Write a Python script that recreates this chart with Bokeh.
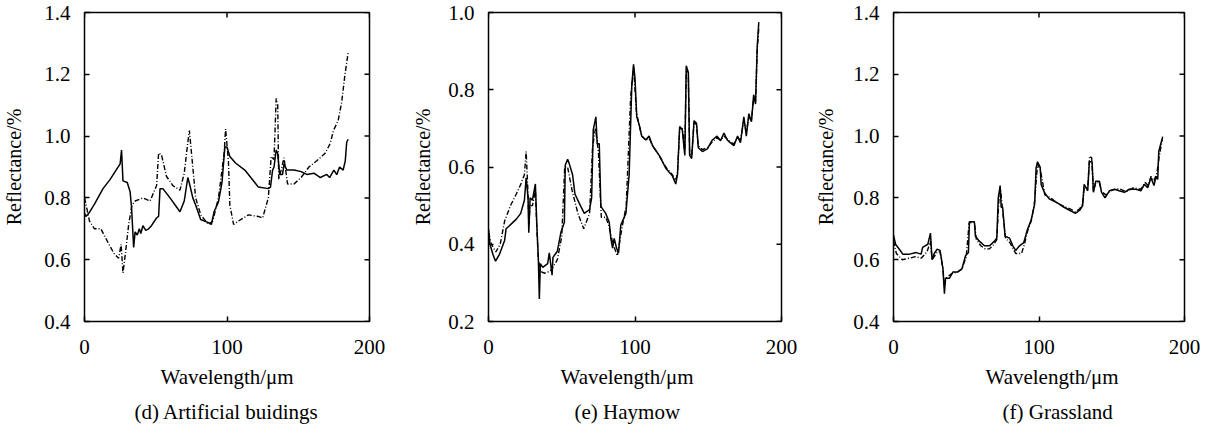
import math
from bokeh.plotting import figure
from bokeh.models import Range1d, FixedTicker, LinearAxis, Title, PrintfTickFormatter
from bokeh.layouts import row
from bokeh.embed import file_html
from bokeh.resources import INLINE

FONT = "Liberation Serif"

# ---------------- data ----------------
x_start, x_end = 0, 200
x_ticks = [0, 100, 200]
captions = ["(d) Artificial buidings", "(e) Haymow", "(f) Grassland"]
x_label = "Wavelength/\u03bcm"
y_label = "Reflectance/%"

# (d) Artificial buildings
d_solid_x = [0, 1, 3, 7, 13, 18, 25, 26, 27, 30, 32, 33, 34.5, 35.5, 37, 38.5, 39.5, 41, 43, 45, 47,
             50.5, 52, 53, 55, 60, 67, 70, 72.5, 74, 76, 78, 81.5, 87, 89, 91, 94, 96.5, 98.5, 100,
             102, 106, 112.5, 119.5, 122, 129, 130.5, 132, 133, 134.5, 135.5, 137, 139, 140, 142,
             147, 152, 156, 161, 165.5, 170, 172, 175, 177, 179, 181.5, 183, 184, 185]
d_solid_y = [0.75, 0.74, 0.75, 0.78, 0.83, 0.86, 0.91, 0.955, 0.855, 0.85, 0.82, 0.77, 0.64, 0.69, 0.68,
             0.70, 0.685, 0.71, 0.695, 0.70, 0.71,
             0.735, 0.74, 0.83, 0.83, 0.80, 0.755, 0.79, 0.866, 0.84, 0.80, 0.777, 0.73, 0.72, 0.714,
             0.756, 0.787, 0.85, 0.965, 0.965,
             0.934, 0.913, 0.89, 0.85, 0.835, 0.83, 0.835, 0.89, 0.90, 0.955, 0.945, 0.876, 0.876, 0.91,
             0.89, 0.89, 0.885, 0.876, 0.88, 0.866, 0.876, 0.866, 0.89, 0.875, 0.90, 0.89, 0.92, 0.98, 0.99]
d_dash_x = [0, 1, 3.5, 7, 11.5, 16, 20.7, 24, 25.7, 27, 28.7, 31, 33.3, 35.6, 41, 46, 50.6, 52, 54, 57.5,
            62, 67, 70, 72.4, 73.6, 76, 78, 81.6, 87, 90, 94, 98, 99, 101, 102, 104.6, 108, 115, 122, 125,
            129, 131, 133, 134.5, 135.6, 136.3, 138, 140, 142.5, 147, 152, 157.5, 163, 169, 172.4, 174.7,
            178, 180.5, 182.8, 185]
d_dash_y = [0.80, 0.78, 0.725, 0.70, 0.70, 0.66, 0.62, 0.605, 0.65, 0.557, 0.62, 0.714, 0.777, 0.79, 0.80,
            0.79, 0.84, 0.945, 0.94, 0.87, 0.84, 0.825, 0.88, 0.976, 1.018, 0.90, 0.80, 0.745, 0.714, 0.725,
            0.80, 0.945, 1.023, 0.92, 0.777, 0.714, 0.725, 0.745, 0.74, 0.735, 0.80, 0.934, 0.924, 1.122,
            1.10, 0.86, 0.89, 0.93, 0.845, 0.845, 0.866, 0.90, 0.92, 0.945, 0.976, 1.018, 1.05, 1.11, 1.20, 1.27]

# (e) Haymow
e_solid_x = [0, 1, 3, 4.8, 7.5, 11, 12, 15.4, 19, 22, 24.5, 25.7, 27, 27.5, 28.4, 30, 32, 33, 34, 34.7,
             35.4, 37, 40.4, 41.5, 43.4, 44, 47, 49.5, 51.8, 52.4, 54, 55, 57.4, 59, 62, 65.4, 69, 70.4,
             71.5, 73.3, 74.2, 75.6, 76.7, 80, 82.4, 83.5, 84.7, 85.8, 87.4, 88.8, 90.3, 93.8, 96, 97.8,
             99, 100, 101.2, 102.8, 104.6, 107.4, 109.6, 112, 116.5, 121, 125.5, 127.8, 129, 130.5, 132.3,
             134, 135, 136.4, 137.3, 138.7, 140.3, 142, 143.2, 146, 149.4, 152.8, 156, 158.4, 160.7, 163,
             165, 167.5, 170, 172, 174.3, 176, 177.7, 179.5, 181, 182.3, 183.4, 184.5]
e_solid_y = [0.44, 0.40, 0.374, 0.356, 0.374, 0.41, 0.44, 0.452, 0.465, 0.48, 0.514, 0.572, 0.52, 0.43,
             0.52, 0.514, 0.556, 0.45, 0.366, 0.258, 0.35, 0.34, 0.35, 0.378, 0.32, 0.366, 0.382, 0.432,
             0.457, 0.605, 0.62, 0.61, 0.58, 0.53, 0.506, 0.48, 0.49, 0.52, 0.696, 0.73, 0.66, 0.66, 0.498,
             0.48, 0.457, 0.415, 0.39, 0.415, 0.39, 0.378, 0.45, 0.48, 0.58, 0.81, 0.866, 0.83, 0.73, 0.71,
             0.68, 0.67, 0.68, 0.655, 0.63, 0.597, 0.577, 0.556, 0.58, 0.705, 0.696, 0.63, 0.862, 0.845,
             0.63, 0.622, 0.72, 0.713, 0.65, 0.64, 0.647, 0.67, 0.68, 0.668, 0.688, 0.67, 0.663, 0.655,
             0.68, 0.663, 0.73, 0.68, 0.738, 0.717, 0.787, 0.763, 0.91, 0.975]
e_dash_x = [0, 2, 5, 8, 11, 15, 19, 22, 24.5, 25.7, 27, 27.5, 28.4, 30, 32, 33, 34, 35.5, 38, 42, 44, 47,
            50, 52, 54, 57, 61, 65, 69, 71, 73, 75, 77, 80, 82, 85, 88, 91, 94, 97, 99, 101, 102.8,
            104.6, 107.4, 109.6, 112, 116.5, 121, 125.5, 127.8, 129, 130.5, 132.3, 134, 135, 136.4, 137.3,
            138.7, 140.3, 142, 143.2, 146, 149.4, 152.8, 156, 158.4, 160.7, 163, 165, 167.5, 170, 172,
            174.3, 176, 177.7, 179.5, 181, 182.3, 183.4, 184.5]
e_dash_y = [0.43, 0.40, 0.38, 0.40, 0.46, 0.50, 0.53, 0.555, 0.58, 0.64, 0.53, 0.45, 0.50, 0.50, 0.54,
            0.44, 0.36, 0.33, 0.325, 0.33, 0.34, 0.36, 0.42, 0.60, 0.60, 0.54, 0.48, 0.44, 0.48, 0.65,
            0.70, 0.64, 0.47, 0.47, 0.45, 0.40, 0.37, 0.44, 0.50, 0.78, 0.86, 0.74, 0.71,
            0.68, 0.67, 0.675, 0.655, 0.63, 0.60, 0.58, 0.565, 0.585, 0.70, 0.70, 0.64, 0.855, 0.84, 0.635,
            0.63, 0.715, 0.71, 0.655, 0.645, 0.65, 0.665, 0.675, 0.67, 0.68, 0.672, 0.665, 0.66, 0.675,
            0.67, 0.72, 0.69, 0.73, 0.72, 0.78, 0.77, 0.90, 0.96]

# (f) Grassland
f_solid_x = [0, 1.4, 4, 6.4, 11, 15.6, 19, 20, 23.6, 25.4, 26.5, 28, 30, 32, 34, 35, 35.7, 38.5, 40.8, 44,
             47, 49.5, 51.5, 52.2, 55.6, 56.3, 59, 62.5, 66, 69.4, 71, 72, 73.3, 74, 75, 76.7, 79.7, 82,
             84, 86.6, 89.5, 92, 94.6, 97, 98, 99, 100.8, 101.5, 103.7, 107, 111.8, 116, 121, 125, 128,
             130, 131, 133.5, 134.6, 136.5, 137.4, 139, 141.5, 143, 145.4, 148.4, 152, 155, 158.7, 162,
             166.7, 170, 172.4, 174.7, 177, 179, 180.5, 181.6, 182.3, 184, 184.6]
f_solid_y = [0.68, 0.65, 0.634, 0.618, 0.618, 0.623, 0.618, 0.64, 0.65, 0.686, 0.60, 0.62, 0.634, 0.63,
             0.57, 0.49, 0.54, 0.54, 0.56, 0.56, 0.57, 0.613, 0.623, 0.723, 0.723, 0.676, 0.66, 0.645,
             0.645, 0.66, 0.67, 0.80, 0.84, 0.77, 0.77, 0.676, 0.67, 0.645, 0.63, 0.645, 0.655, 0.697,
             0.728, 0.78, 0.896, 0.917, 0.90, 0.843, 0.818, 0.797, 0.786, 0.773, 0.76, 0.75, 0.76, 0.775,
             0.844, 0.823, 0.917, 0.917, 0.818, 0.854, 0.854, 0.818, 0.80, 0.823, 0.828, 0.823, 0.818,
             0.828, 0.828, 0.823, 0.844, 0.833, 0.865, 0.84, 0.87, 0.86, 0.95, 0.98, 0.99]
f_dash_x = [0, 2, 6, 11, 15, 19, 23, 25.4, 26.5, 28, 30, 32, 34, 35, 36, 40, 44, 47, 50, 52, 55.6, 57, 60,
            63, 66, 69, 71, 72.5, 73.5, 75, 77, 80, 84, 88, 90, 92, 95, 97, 99, 101, 104, 108, 112, 116,
            121, 125, 128, 130, 131, 133.5, 134.8, 136.2, 137.4, 139, 141.5, 143, 146, 150, 155, 160, 165,
            170, 173, 175, 177, 179, 181, 182.5, 184, 185]
f_dash_y = [0.66, 0.62, 0.60, 0.605, 0.61, 0.605, 0.625, 0.66, 0.60, 0.61, 0.625, 0.625, 0.57, 0.51, 0.54,
            0.555, 0.56, 0.57, 0.61, 0.72, 0.72, 0.665, 0.645, 0.635, 0.635, 0.65, 0.665, 0.80, 0.83, 0.76,
            0.67, 0.655, 0.62, 0.62, 0.65, 0.69, 0.73, 0.79, 0.91, 0.89, 0.81, 0.80, 0.785, 0.775, 0.765,
            0.755, 0.765, 0.78, 0.83, 0.835, 0.935, 0.93, 0.82, 0.85, 0.85, 0.82, 0.81, 0.825, 0.83, 0.82,
            0.833, 0.828, 0.85, 0.84, 0.87, 0.855, 0.88, 0.93, 0.97, 1.0]

y_ticks_d = [0.4, 0.6, 0.8, 1.0, 1.2, 1.4]
y_ticks_e = [0.2, 0.4, 0.6, 0.8, 1.0]
y_ticks_f = [0.4, 0.6, 0.8, 1.0, 1.2, 1.4]


def style_axis(ax):
    ax.major_tick_in = 5
    ax.major_tick_out = 0
    ax.major_tick_line_color = "black"
    ax.major_tick_line_width = 1.5
    ax.minor_tick_line_color = None
    ax.axis_line_color = None
    ax.major_label_text_font = FONT
    ax.major_label_text_font_size = "21px"
    ax.major_label_text_color = "black"
    ax.axis_label_text_font = FONT
    ax.axis_label_text_font_size = "20px"
    ax.axis_label_text_font_style = "normal"
    ax.axis_label_text_color = "black"


def panel(xs, ys, xd, yd, yticks, caption, width, height, bl, br, bt, bb, ylab_standoff,
          xlab_offset, cap_offset):
    p = figure(width=width, height=height, output_backend="svg", toolbar_location=None,
               x_range=Range1d(x_start, x_end), y_range=Range1d(yticks[0], yticks[-1]),
               x_axis_type=None, y_axis_type=None, title=None,
               min_border_left=bl, min_border_right=br, min_border_top=bt, min_border_bottom=bb)
    p.grid.visible = False
    p.outline_line_color = "black"
    p.outline_line_width = 1.5
    p.outline_line_alpha = 1.0
    p.background_fill_color = "white"
    p.border_fill_color = "white"

    xb = LinearAxis(ticker=FixedTicker(ticks=x_ticks))
    style_axis(xb)
    xb.major_label_standoff = 18
    p.add_layout(xb, "below")

    yl = LinearAxis(ticker=FixedTicker(ticks=yticks), axis_label=y_label,
                    formatter=PrintfTickFormatter(format="%.1f"))
    style_axis(yl)
    yl.major_label_standoff = 14
    yl.axis_label_standoff = ylab_standoff
    p.add_layout(yl, "left")

    p.add_layout(Title(text=x_label, align="left", text_font=FONT, text_font_size="21px",
                       text_font_style="normal", text_color="black", standoff=12,
                       offset=xlab_offset), "below")
    p.add_layout(Title(text=caption, align="left", text_font=FONT, text_font_size="21px",
                       text_font_style="normal", text_color="black", standoff=6,
                       offset=cap_offset), "below")

    # inward ticks on the right and top frame edges (clipped by the frame)
    p.scatter([x_end] * len(yticks), yticks, marker="dash", size=10,
              line_color="black", line_width=1.5)
    p.scatter(x_ticks, [yticks[-1]] * len(x_ticks), marker="dash", size=10, angle=math.pi / 2,
              line_color="black", line_width=1.5)

    p.line(xd, yd, line_color="black", line_width=1.4, line_dash="5 2 1 2")
    p.line(xs, ys, line_color="black", line_width=1.5)
    return p


H = 426
p1 = panel(d_solid_x, d_solid_y, d_dash_x, d_dash_y, y_ticks_d, captions[0], 392, H, 79, 23, 12, 102, 16, 76, 50)
p2 = panel(e_solid_x, e_solid_y, e_dash_x, e_dash_y, y_ticks_e, captions[1], 410, H, 96, 21, 12, 102, 11, 72, 86)
p3 = panel(f_solid_x, f_solid_y, f_dash_x, f_dash_y, y_ticks_f, captions[2], 398, H, 91, 16, 12, 102, 13, 92, 109)

layout = row(p1, p2, p3, spacing=0)
open("out.html", "w").write(file_html(layout, INLINE))
